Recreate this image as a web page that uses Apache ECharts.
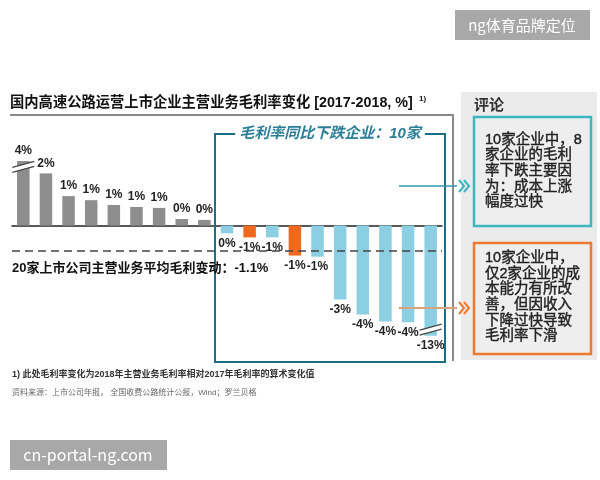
<!DOCTYPE html>
<html><head><meta charset="utf-8">
<script src="https://cdn.jsdelivr.net/npm/echarts@6/dist/echarts.min.js"></script>
<style>html,body{margin:0;padding:0;background:#fff}#c{width:600px;height:480px}</style>
</head><body><div id="c"></div>
<script>
// ---------- data ----------
const companies = ['企业1','企业2','企业3','企业4','企业5','企业6','企业7','企业8','企业9','企业10',
  '企业11','企业12','企业13','企业14','企业15','企业16','企业17','企业18','企业19'];
// gross margin change 2018 vs 2017, percentage points
const values = [4.0, 2.3, 1.3, 1.12, 0.91, 0.82, 0.78, 0.29, 0.25,
  -0.34, -0.52, -0.52, -1.32, -1.37, -3.26, -3.92, -4.22, -4.26, -13.0];
// rise: margin up; fall: margin down (cost); fallRevenue: cost improved but revenue fell
const groups = ['rise','rise','rise','rise','rise','rise','rise','rise','rise',
  'fall','fallRevenue','fall','fallRevenue','fall','fall','fall','fall','fall','fall'];
const avgChange = -1.1;
// broken-axis display limits (values beyond are drawn truncated with a break mark)
const axisBreakAt = { high: 2.85, low: -4.85 };

const titleText = '国内高速公路运营上市企业主营业务毛利率变化 [2017-2018, %]';
const frameTitle = '毛利率同比下跌企业：10家';
const avgText = '20家上市公司主营业务平均毛利变动：' + avgChange + '%';
const note1 = '1) 此处毛利率变化为2018年主营业务毛利率相对2017年毛利率的算术变化值';
const note2 = '资料来源：上市公司年报， 全国收费公路统计公报，Wind；罗兰贝格';
const commentTitle = '评论';
const comment1 = ['10家企业中，8','家企业的毛利','率下跌主要因','为：成本上涨','幅度过快'];
const comment2 = ['10家企业中，','仅2家企业的成','本能力有所改','善，但因收入','下降过快导致','毛利率下滑'];

// ---------- chart ----------
const FONT = '"Liberation Sans", "Noto Sans CJK SC", sans-serif';
const CJK = '"Noto Sans CJK SC", "Liberation Sans", sans-serif';
const colorMap = { rise: '#8e8e8e', fall: '#8dcfe2', fallRevenue: '#ef6a1f' };
const shown = values.map(v => Math.max(axisBreakAt.low, Math.min(axisBreakAt.high, v)));
const pct = v => (Math.round(v) || 0) + '%';

const chart = echarts.init(document.getElementById('c'), null, { renderer: 'canvas' });
chart.setOption({
  animation: false,
  backgroundColor: '#fff',
  grid: { left: 12, width: 430, top: 157.5, height: 181.6 },
  xAxis: {
    type: 'category', data: companies,
    axisLine: { show: true, onZero: true, lineStyle: { color: '#222', width: 1.5 } },
    axisTick: { show: false }, axisLabel: { show: false }, splitLine: { show: false }
  },
  yAxis: { type: 'value', min: -5, max: 3, show: false, splitLine: { show: false } },
  series: [{
    type: 'bar', barWidth: 12.5,
    data: shown.map((v, i) => ({
      value: v,
      itemStyle: { color: colorMap[groups[i]] },
      label: { position: v >= 0 ? 'top' : 'bottom' }
    })),
    label: {
      show: true, distance: 4,
      fontFamily: FONT, fontSize: 12, fontWeight: 'bold', color: '#222',
      formatter: p => pct(values[p.dataIndex])
    },
    markLine: {
      silent: true, symbol: 'none', label: { show: false },
      lineStyle: { type: [8, 5], color: '#444', width: 1.5 },
      data: [{ yAxis: avgChange }]
    }
  }]
});

function txt(x, y, text, font, fill, extra, z) {
  return { type: 'text', x: x, y: y, z: z || 50,
    style: Object.assign({ text: text, font: font, fill: fill,
      align: 'left', textAlign: 'left', verticalAlign: 'middle', textVerticalAlign: 'middle' }, extra || {}) };
}
function chevrons(x, y, color) {
  return [0, 5].map(d => ({ type: 'polyline', z: 60,
    shape: { points: [[x + d, y - 6], [x + d + 5, y], [x + d, y + 6]] },
    style: { stroke: color, lineWidth: 2, fill: 'none' } }));
}
function breakMark(i) {
  const v = shown[i];
  const top = v >= 0;
  const p = chart.convertToPixel({ seriesIndex: 0 }, [i, v]);
  const cx = p[0];
  const cy = top ? p[1] + 6 : p[1] - 6;
  const hw = 11, s = 3, g = 2.5;
  return [
    { type: 'polygon', z: 40, shape: { points: [[cx - hw, cy + s - g], [cx + hw, cy - s - g], [cx + hw, cy - s + g], [cx - hw, cy + s + g]] },
      style: { fill: '#fff' } },
    { type: 'line', z: 41, shape: { x1: cx - hw, y1: cy + s - g, x2: cx + hw, y2: cy - s - g }, style: { stroke: '#444', lineWidth: 1.2 } },
    { type: 'line', z: 41, shape: { x1: cx - hw, y1: cy + s + g, x2: cx + hw, y2: cy - s + g }, style: { stroke: '#444', lineWidth: 1.2 } }
  ];
}

const breaks = [];
values.forEach((v, i) => { if (v !== shown[i]) breaks.push(...breakMark(i)); });

const boxText = { verticalAlign: 'top', textVerticalAlign: 'top', lineHeight: 15.6,
  stroke: '#222', lineWidth: 0.4 };

const graphics = [
  txt(10, 103, titleText, 'bold 14.3px ' + FONT, '#111'),
  txt(419, 99, '1)', 'bold 8px ' + FONT, '#111'),
  { type: 'polyline', z: 30, shape: { points: [[10, 115], [453, 115], [453, 361]] },
    style: { stroke: '#8a8a8a', lineWidth: 2, fill: 'none' } },
  { type: 'rect', z: 30, shape: { x: 215, y: 134, width: 230, height: 228 },
    style: { fill: 'none', stroke: '#1f6e87', lineWidth: 2 } },
  txt(330, 134, frameTitle, 'italic bold 15px ' + FONT, '#2a7e98',
    { align: 'center', textAlign: 'center', backgroundColor: '#fff', padding: [0, 4] }),
  txt(12, 268, avgText, 'bold 13px ' + FONT, '#111'),
  txt(12, 375, note1, 'bold 9px ' + FONT, '#333'),
  txt(12, 393, note2, '8px ' + FONT, '#666'),
  { type: 'rect', z: 20, shape: { x: 461, y: 92, width: 136, height: 268 }, style: { fill: '#ebebeb' } },
  txt(474, 104, commentTitle, 'bold 15px ' + CJK, '#333'),
  { type: 'rect', z: 30, shape: { x: 474, y: 117, width: 117, height: 109 },
    style: { fill: '#eeeeee', stroke: '#3fb6bf', lineWidth: 2.5 } },
  txt(485, 132, comment1.join('\n'), '14.5px ' + FONT, '#222', boxText),
  { type: 'rect', z: 30, shape: { x: 474, y: 243, width: 117, height: 111 },
    style: { fill: '#eeeeee', stroke: '#e97a30', lineWidth: 2.5 } },
  txt(485, 250, comment2.join('\n'), '14.5px ' + FONT, '#222', Object.assign({}, boxText, { lineHeight: 15.7 })),
  { type: 'line', z: 55, shape: { x1: 399, y1: 186, x2: 457, y2: 186 }, style: { stroke: '#2f97ad', lineWidth: 1.5 } },
  ...chevrons(459, 186, '#3ab5c2'),
  { type: 'line', z: 55, shape: { x1: 399, y1: 308, x2: 457, y2: 308 }, style: { stroke: '#d8a47e', lineWidth: 2 } },
  ...chevrons(459, 308, '#ec7a2a'),
  { type: 'rect', z: 70, shape: { x: 455, y: 10, width: 135, height: 30 }, style: { fill: '#a8a8a8' } },
  txt(522, 25, 'ng体育品牌定位', '15px ' + CJK, '#fff', { align: 'center', textAlign: 'center' }, 75),
  { type: 'rect', z: 70, shape: { x: 10, y: 440, width: 157, height: 30 }, style: { fill: '#a8a8a8' } },
  txt(88, 455, 'cn-portal-ng.com', '16px ' + CJK, '#fff', { align: 'center', textAlign: 'center' }, 75),
  ...breaks
];
chart.setOption({ graphic: { elements: graphics } });
</script>
</body></html>
